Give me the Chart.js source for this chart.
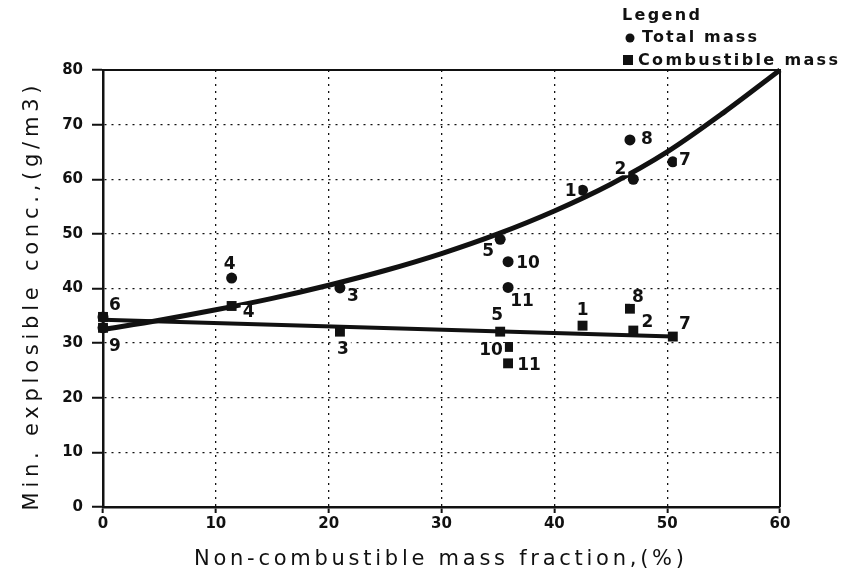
<!DOCTYPE html>
<html>
<head>
<meta charset="utf-8">
<script src="https://cdn.jsdelivr.net/npm/chart.js@4.4.1/dist/chart.umd.min.js"></script>
<style>
  html, body { margin: 0; padding: 0; background: #fff; }
  #chart { display: block; }
</style>
</head>
<body>
<canvas id="chart" width="842" height="573"></canvas>
<script>
// sample numbers and values
const sampleIds = ['1', '2', '3', '4', '5', '6', '7', '8', '9', '10', '11'];
const nonCombustibleFraction = [42.5, 47.0, 21.0, 11.4, 35.2, 0, 50.5, 46.7, 0, 35.9, 35.9];
const totalMass = [58.0, 60.0, 40.1, 41.9, 49.0, 34.8, 63.2, 67.2, 32.8, 44.9, 40.2];
const combustibleMass = [33.2, 32.3, 32.1, 36.8, 32.1, 34.8, 31.2, 36.3, 32.8, 29.3, 26.3];

// fitted curves as drawn in the figure
const totalFitX = [0, 5, 10, 15, 20, 25, 30, 35, 40, 45, 50, 55, 60];
const totalFitY = [32.5, 34.2, 36.1, 38.2, 40.6, 43.3, 46.4, 50.0, 54.2, 59.1, 65.0, 72.2, 80.0];
const combustibleFitX = [0, 50.5];
const combustibleFitY = [34.3, 31.2];

// axis ticks
const xTicks = [0, 10, 20, 30, 40, 50, 60];
const yTicks = [0, 10, 20, 30, 40, 50, 60, 70, 80];

const xTitle = 'Non-combustible mass fraction,(%)';
const yTitle = 'Min. explosible conc.,(g/m3)';
const legendTitle = 'Legend';
const seriesNames = ['Total mass', 'Combustible mass'];

// where each sample number sits relative to its marker (px)
const totalLabelPos = [[-12, 0], [-13, -11], [13, 8], [-2, -15], [-12, 11], null, [12, -2], [17, -1], null, [20, 1], [14, 13]];
const combLabelPos = [[0, -16], [14, -9], [3, 17], [17, 6], [-3, -17], [12, -12], [12, -13], [8, -12], [12, 18], [-17, 3], [21, 1]];

const ink = '#111';
const family = '"DejaVu Sans", sans-serif';

const toPoints = (xs, ys) => xs.map((x, i) => ({ x: x, y: ys[i] }));

// draw text stretched to a given width with letter spacing
function drawSpaced(ctx, text, x, y, width, align) {
    ctx.letterSpacing = '0px';
    const w0 = ctx.measureText(text).width;
    const sp = Math.max(0, (width - w0) / Math.max(1, text.length - 1));
    ctx.letterSpacing = sp + 'px';
    let left = x;
    if (align === 'center') left = x - width / 2;
    ctx.textAlign = 'left';
    ctx.fillText(text, left, y);
    ctx.letterSpacing = '0px';
}

const framePlugin = {
    id: 'frame',
    afterDatasetsDraw(chart) {
        const { ctx, chartArea: a } = chart;
        ctx.save();
        ctx.strokeStyle = ink;
        ctx.lineWidth = 2;
        ctx.beginPath();
        ctx.moveTo(a.left, a.top);
        ctx.lineTo(a.right, a.top);
        ctx.lineTo(a.right, a.bottom);
        ctx.stroke();
        ctx.restore();
    }
};

const labelPlugin = {
    id: 'pointLabels',
    afterDatasetsDraw(chart) {
        const ctx = chart.ctx;
        ctx.save();
        ctx.font = 'bold 17px ' + family;
        ctx.textBaseline = 'middle';
        ctx.textAlign = 'center';
        [[0, totalLabelPos], [1, combLabelPos]].forEach(([di, pos]) => {
            const meta = chart.getDatasetMeta(di);
            meta.data.forEach((el, i) => {
                if (!pos[i]) return;
                const tx = el.x + pos[i][0];
                const ty = el.y + pos[i][1];
                const w = ctx.measureText(sampleIds[i]).width;
                ctx.fillStyle = '#fff';
                ctx.fillRect(tx - w / 2 - 2, ty - 7, w + 4, 14);
                ctx.fillStyle = ink;
                ctx.fillText(sampleIds[i], tx, ty + 1);
            });
        });
        ctx.restore();
    }
};

const textPlugin = {
    id: 'texts',
    afterDraw(chart) {
        const ctx = chart.ctx;
        ctx.save();
        ctx.fillStyle = ink;
        ctx.textBaseline = 'alphabetic';

        // axis titles
        ctx.font = '21px ' + family;
        drawSpaced(ctx, xTitle, 439, 565, 490, 'center');
        ctx.save();
        ctx.translate(38, 298);
        ctx.rotate(-Math.PI / 2);
        drawSpaced(ctx, yTitle, 0, 0, 425, 'center');
        ctx.restore();

        // legend
        ctx.font = 'bold 16px ' + family;
        drawSpaced(ctx, legendTitle, 622, 20, 78, 'left');
        drawSpaced(ctx, seriesNames[0], 642, 42, 115, 'left');
        drawSpaced(ctx, seriesNames[1], 638, 65, 200, 'left');
        ctx.beginPath();
        ctx.arc(630, 38, 4.5, 0, Math.PI * 2);
        ctx.fill();
        ctx.fillRect(623, 55, 10, 10);
        ctx.restore();
    }
};

const tickFont = { family: family, size: 15, weight: 'bold' };

new Chart(document.getElementById('chart'), {
    type: 'scatter',
    data: {
        datasets: [
            {
                label: seriesNames[0],
                data: toPoints(nonCombustibleFraction, totalMass),
                pointStyle: 'circle',
                pointRadius: 5.5,
                backgroundColor: ink,
                borderColor: ink,
                borderWidth: 0,
                clip: false,
                order: 0
            },
            {
                label: seriesNames[1],
                data: toPoints(nonCombustibleFraction, combustibleMass),
                pointStyle: 'rect',
                pointRadius: 7,
                backgroundColor: ink,
                borderColor: ink,
                borderWidth: 0,
                clip: false,
                order: 0
            },
            {
                type: 'line',
                label: 'Total mass fit',
                data: toPoints(totalFitX, totalFitY),
                borderColor: ink,
                borderWidth: 5,
                pointRadius: 0,
                cubicInterpolationMode: 'monotone',
                fill: false,
                clip: false,
                order: 1
            },
            {
                type: 'line',
                label: 'Combustible mass fit',
                data: toPoints(combustibleFitX, combustibleFitY),
                borderColor: ink,
                borderWidth: 4,
                pointRadius: 0,
                fill: false,
                clip: false,
                order: 1
            }
        ]
    },
    options: {
        responsive: false,
        animation: false,
        layout: { padding: { top: 70, right: 62, left: 0, bottom: 0 } },
        plugins: {
            legend: { display: false },
            tooltip: { enabled: false }
        },
        scales: {
            x: {
                type: 'linear',
                min: xTicks[0],
                max: xTicks[xTicks.length - 1],
                ticks: { stepSize: 10, color: ink, font: tickFont, padding: 2, maxRotation: 0 },
                grid: { color: ink, lineWidth: 1.3, tickLength: 6, tickWidth: 2, tickColor: ink, tickBorderDash: [1, 0] },
                border: { color: ink, width: 2.5, dash: [2, 5] },
                afterFit: s => { s.height = 66; }
            },
            y: {
                type: 'linear',
                min: yTicks[0],
                max: yTicks[yTicks.length - 1],
                ticks: { stepSize: 10, color: ink, font: tickFont, padding: 9 },
                grid: { color: ink, lineWidth: 1.3, tickLength: 11, tickWidth: 2, tickColor: ink, tickBorderDash: [1, 0] },
                border: { color: ink, width: 2.5, dash: [2, 5] },
                afterFit: s => { s.width = 103; }
            }
        }
    },
    plugins: [framePlugin, labelPlugin, textPlugin]
});
</script>
</body>
</html>
